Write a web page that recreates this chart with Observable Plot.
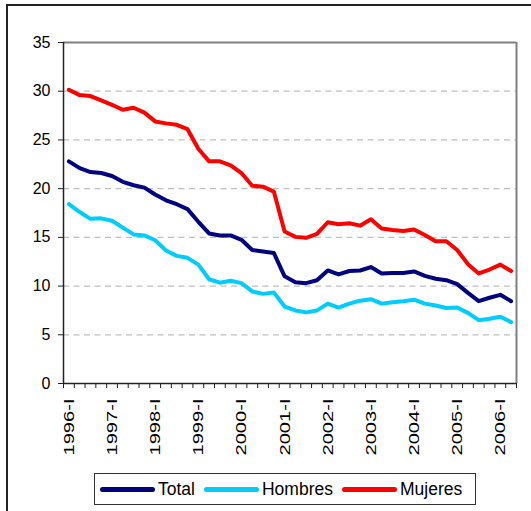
<!DOCTYPE html>
<html>
<head>
<meta charset="utf-8">
<script src="https://cdn.jsdelivr.net/npm/d3@7"></script>
<script src="https://cdn.jsdelivr.net/npm/@observablehq/plot@0.6"></script>
<style>
  html, body { margin: 0; padding: 0; background: #fff; overflow: hidden; }
  #wrap { position: relative; width: 531px; height: 511px; font-family: "Liberation Sans", Arial, sans-serif; }
  #frame { position: absolute; left: 6px; top: 4px; width: 700px; height: 700px; border-top: 2px solid #222; border-left: 2px solid #222; pointer-events: none; }
  #chart svg { display: block; }
  #legend { position: absolute; left: 94px; top: 473px; width: 380px; height: 30px; border: 1.5px solid #333; background: #fff;
            display: flex; align-items: center; font-size: 17.5px; color: #000; }
  .item { display: flex; align-items: center; }
  .swatch { width: 55px; height: 5px; border-radius: 3px; margin-right: 3px; }
</style>
</head>
<body>
<div id="wrap">
  <div id="chart"></div>
  <div id="legend"></div>
  <div id="frame"></div>
</div>
<script>
const years = [1996, 1997, 1998, 1999, 2000, 2001, 2002, 2003, 2004, 2005, 2006];
const quarterNames = ["I", "II", "III", "IV"];
const quarters = years.flatMap(y => quarterNames.map(q => `${y}-${q}`)).slice(0, 42);

const total = [22.8, 22.1, 21.7, 21.6, 21.3, 20.7, 20.35, 20.1, 19.4, 18.8,
               18.4, 17.9, 16.6, 15.4, 15.2, 15.2, 14.75, 13.7, 13.55, 13.4,
               11.0, 10.4, 10.3, 10.6, 11.6, 11.2, 11.55, 11.6, 11.95, 11.3,
               11.35, 11.35, 11.5, 11.05, 10.75, 10.6, 10.2, 9.3, 8.45, 8.8,
               9.1, 8.45];
const hombres = [18.4, 17.6, 16.9, 16.95, 16.7, 16.0, 15.3, 15.2, 14.7, 13.65,
                 13.1, 12.9, 12.2, 10.7, 10.35, 10.55, 10.3, 9.45, 9.2, 9.35,
                 7.9, 7.5, 7.3, 7.5, 8.2, 7.8, 8.2, 8.5, 8.65, 8.2,
                 8.35, 8.45, 8.6, 8.2, 8.0, 7.75, 7.8, 7.25, 6.5, 6.65,
                 6.85, 6.3];
const mujeres = [30.15, 29.6, 29.5, 29.05, 28.6, 28.1, 28.3, 27.8, 26.9, 26.7,
                 26.55, 26.1, 24.1, 22.8, 22.8, 22.4, 21.6, 20.3, 20.2, 19.7,
                 15.6, 15.05, 14.95, 15.35, 16.55, 16.35, 16.45, 16.2, 16.85, 15.9,
                 15.75, 15.65, 15.8, 15.25, 14.6, 14.6, 13.7, 12.25, 11.3, 11.7,
                 12.2, 11.55];
const seriesNames = ["Total", "Hombres", "Mujeres"];
const seriesColors = ["#000080", "#00CCFF", "#FF0000"];
const yTicks = [0, 5, 10, 15, 20, 25, 30, 35];
const yGrid = [5, 10, 15, 20, 25, 30];

const seriesValues = [total, hombres, mujeres];
const rows = seriesNames.flatMap((name, s) =>
  seriesValues[s].map((v, i) => ({ i, quarter: quarters[i], value: v, series: name })));

const n = quarters.length;
const boundaries = d3.range(n + 1).map(i => i - 0.5);
const labelIdx = d3.range(0, n).filter(i => quarters[i].endsWith("-I"));

const plot = Plot.plot({
  width: 531,
  height: 470,
  marginLeft: 63,
  marginRight: 15,
  marginTop: 42,
  marginBottom: 87,
  style: { fontFamily: "'Liberation Sans', Arial, sans-serif", background: "#fff", color: "#000" },
  x: { type: "linear", domain: [-0.5, n - 0.5], label: null },
  y: { domain: [0, 35], label: null },
  color: { domain: seriesNames, range: seriesColors },
  marks: [
    Plot.gridY(yGrid, { stroke: "#c0c0c0", strokeOpacity: 1, strokeWidth: 1.2, strokeDasharray: "6,4.5" }),
    Plot.ruleY([35], { stroke: "#808080", strokeWidth: 2 }),
    Plot.ruleX([n - 0.5], { stroke: "#808080", strokeWidth: 2 }),
    Plot.axisY(yTicks, { tickSize: 5, tickPadding: 8, fontSize: 16, stroke: "#222", label: null }),
    Plot.axisX(boundaries, { tickSize: 5, tickFormat: () => "", stroke: "#222", label: null }),
    Plot.axisX(labelIdx, { tickSize: 0, tickPadding: 15, tickRotate: -90, fontSize: 15.5,
                           tickFormat: i => quarters[i], label: null }),
    Plot.ruleX([-0.5], { stroke: "#222", strokeWidth: 1.5 }),
    Plot.ruleY([0], { stroke: "#222", strokeWidth: 1.5 }),
    Plot.line(rows, { x: "i", y: "value", z: "series", stroke: "series",
                      strokeWidth: 4, strokeLinejoin: "round", strokeLinecap: "round" })
  ]
});
document.getElementById("chart").appendChild(plot);

// stretch x tick labels to the reference's length
d3.select(plot).selectAll("g[aria-label='x-axis tick label'] text")
  .attr("textLength", 57).attr("lengthAdjust", "spacingAndGlyphs");

const legend = d3.select("#legend");
seriesNames.forEach((name, s) => {
  const it = legend.append("div").attr("class", "item")
    .style("margin-left", s === 0 ? "5px" : "9px");
  it.append("div").attr("class", "swatch").style("background", seriesColors[s]);
  it.append("span").text(name);
});
</script>
</body>
</html>
